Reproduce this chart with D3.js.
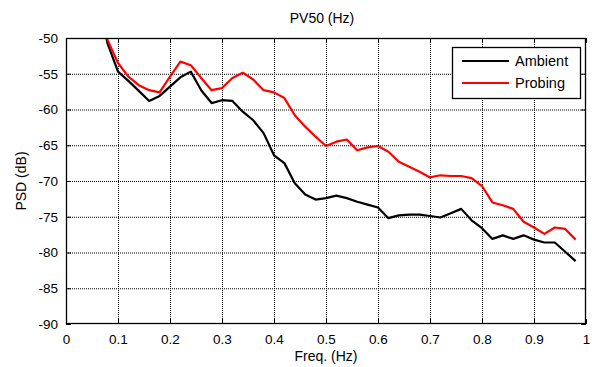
<!DOCTYPE html>
<html>
<head>
<meta charset="utf-8">
<script src="https://cdn.jsdelivr.net/npm/d3@7"></script>
<style>
  html, body { margin: 0; padding: 0; background: #fff; }
  svg { display: block; font-family: Arial, "Liberation Sans", sans-serif; }
</style>
</head>
<body>
<svg id="chart" width="592" height="367"></svg>
<script>
const freq = [0.06,0.08,0.10,0.12,0.14,0.16,0.18,0.20,0.22,0.24,0.26,0.28,0.30,0.32,0.34,0.36,0.38,0.40,0.42,0.44,0.46,0.48,0.50,0.52,0.54,0.56,0.58,0.60,0.62,0.64,0.66,0.68,0.70,0.72,0.74,0.76,0.78,0.80,0.82,0.84,0.86,0.88,0.90,0.92,0.94,0.96,0.98];
const ambient = [-44,-50.8,-54.7,-56.0,-57.4,-58.8,-58.1,-56.8,-55.5,-54.7,-57.3,-59.1,-58.7,-58.8,-60.3,-61.5,-63.3,-66.4,-67.5,-70.3,-71.9,-72.6,-72.4,-72.05,-72.4,-72.9,-73.3,-73.7,-75.2,-74.8,-74.7,-74.7,-74.9,-75.1,-74.5,-73.9,-75.5,-76.6,-78.1,-77.6,-78.1,-77.6,-78.2,-78.6,-78.6,-79.9,-81.2];
const probing = [-43.5,-50.3,-53.5,-55.4,-56.6,-57.3,-57.6,-55.4,-53.3,-53.8,-55.6,-57.3,-57.0,-55.6,-54.85,-55.8,-57.3,-57.6,-58.4,-60.8,-62.4,-63.8,-65.1,-64.5,-64.2,-65.7,-65.3,-65.1,-65.9,-67.3,-68.0,-68.7,-69.5,-69.2,-69.3,-69.3,-69.6,-70.7,-73.0,-73.4,-73.9,-75.7,-76.5,-77.4,-76.5,-76.7,-78.2];
const xTicks = [0,0.1,0.2,0.3,0.4,0.5,0.6,0.7,0.8,0.9,1];
const yTicks = [-50,-55,-60,-65,-70,-75,-80,-85,-90];
const seriesNames = ["Ambient","Probing"];
const seriesColors = ["#000000","#ff0000"];
const titleText = "PV50 (Hz)";
const xLabel = "Freq. (Hz)";
const yLabel = "PSD (dB)";

const L = 66, R = 586, T = 38, B = 324;
const svg = d3.select("#chart");
const x = d3.scaleLinear().domain([0,1]).range([L,R]);
const y = d3.scaleLinear().domain([-90,-50]).range([B,T]);

// grid
const grid = svg.append("g");
grid.selectAll("line.gx").data(xTicks.slice(1,-1)).enter().append("line")
  .attr("x1", d=>x(d)+0.5).attr("x2", d=>x(d)+0.5).attr("y1", T).attr("y2", B)
  .attr("stroke","#000").attr("stroke-width",1).attr("stroke-dasharray","1,1");
grid.selectAll("line.gy").data(yTicks.slice(1,-1)).enter().append("line")
  .attr("y1", d=>y(d)+0.5).attr("y2", d=>y(d)+0.5).attr("x1", L).attr("x2", R)
  .attr("stroke","#000").attr("stroke-width",1).attr("stroke-dasharray","1,1");

// axes
const xAxisB = d3.axisBottom(x).tickValues(xTicks).tickFormat(d=>d3.format("")(d)).tickSizeInner(-5).tickSizeOuter(0).tickPadding(10);
const xAxisT = d3.axisTop(x).tickValues(xTicks).tickFormat("").tickSizeInner(-5).tickSizeOuter(0);
const yAxisL = d3.axisLeft(y).tickValues(yTicks).tickFormat(d=>d).tickSizeInner(-5).tickSizeOuter(0).tickPadding(8);
const yAxisR = d3.axisRight(y).tickValues(yTicks).tickFormat("").tickSizeInner(-5).tickSizeOuter(0);

function styleAxis(g){
  g.select(".domain").remove();
  g.selectAll("line").attr("stroke","#000");
  g.selectAll("text").attr("fill","#000").style("font-size","13.5px").style("font-family","Arial, 'Liberation Sans', sans-serif");
}
svg.append("g").attr("transform",`translate(0,${B})`).call(xAxisB).call(styleAxis);
svg.append("g").attr("transform",`translate(0,${T})`).call(xAxisT).call(styleAxis);
svg.append("g").attr("transform",`translate(${L},0)`).call(yAxisL).call(styleAxis);
svg.append("g").attr("transform",`translate(${R},0)`).call(yAxisR).call(styleAxis);

// clip
svg.append("clipPath").attr("id","clip").append("rect").attr("x",L).attr("y",T).attr("width",R-L).attr("height",B-T);

const line = d3.line().x((d,i)=>x(freq[i])).y(d=>y(d));
const allSeries = [ambient, probing];
svg.append("g").attr("clip-path","url(#clip)").selectAll("path").data(allSeries).enter().append("path")
  .attr("d", d=>line(d)).attr("fill","none")
  .attr("stroke",(d,i)=>seriesColors[i]).attr("stroke-width",2.2).attr("stroke-linejoin","round");

// frame
svg.append("rect").attr("x",L+0.5).attr("y",T+0.5).attr("width",R-L-1).attr("height",B-T-1)
  .attr("fill","none").attr("stroke","#000").attr("stroke-width",1.3);

// titles
svg.append("text").attr("x",(L+R)/2 - 4).attr("y",23).attr("text-anchor","middle")
  .style("font-size","14px").text(titleText);
svg.append("text").attr("x",(L+R)/2).attr("y",361).attr("text-anchor","middle")
  .style("font-size","14px").text(xLabel);
svg.append("text").attr("transform",`translate(26,${(T+B)/2}) rotate(-90)`).attr("text-anchor","middle")
  .style("font-size","14px").text(yLabel);

// legend
const lg = svg.append("g");
lg.append("rect").attr("x",452.5).attr("y",47.5).attr("width",128).attr("height",51)
  .attr("fill","#fff").attr("stroke","#000").attr("stroke-width",1.3);
seriesNames.forEach((n,i)=>{
  const ly = 61 + i*22;
  lg.append("line").attr("x1",462).attr("x2",509).attr("y1",ly).attr("y2",ly)
    .attr("stroke",seriesColors[i]).attr("stroke-width",2.2);
  lg.append("text").attr("x",515).attr("y",ly).attr("dy","0.36em")
    .style("font-size","14.5px").text(n);
});
</script>
</body>
</html>
